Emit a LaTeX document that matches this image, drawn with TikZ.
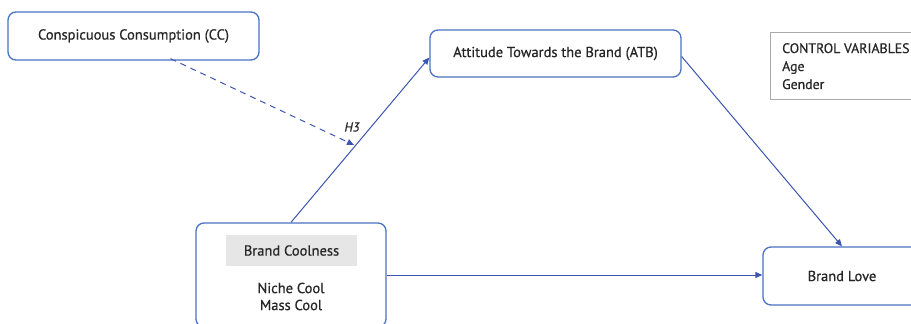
\documentclass[tikz,border=0pt]{standalone}
\usepackage{fontspec}
\setmainfont[FakeBold=0.6]{PT Sans}
\usetikzlibrary{arrows.meta,calc}
\definecolor{boxblue}{HTML}{4A72C4}
\definecolor{lineblue}{HTML}{3B55B0}
\definecolor{txt}{HTML}{262626}
\definecolor{grayfill}{HTML}{E6E6E6}
\definecolor{grayline}{HTML}{AAAAAA}
\begin{document}
\begin{tikzpicture}[x=1pt,y=-1pt,
  vbox/.style={draw=boxblue,line width=1.3pt,rounded corners=8pt,fill=white,text=txt,font=\fontsize{14.5}{17}\selectfont,inner sep=0pt},
  conn/.style={draw=lineblue,line width=1pt,-{Triangle[length=7pt,width=6pt]}},
  lbl/.style={text=txt,font=\fontsize{14.5}{17}\selectfont,inner sep=0pt}]
\useasboundingbox (0,0) rectangle (911,324);
\clip (0,0) rectangle (911,324);
\node[vbox,minimum width=251pt,minimum height=48pt] (cc) at (133.5,36) {Conspicuous Consumption (CC)};
\node[vbox,minimum width=251pt,minimum height=47pt] (atb) at (555.5,53.5) {Attitude Towards the Brand (ATB)};
\node[draw=grayline,line width=0.8pt,minimum width=170pt,minimum height=67pt,anchor=north west,inner sep=0pt] (ctrl) at (770,32) {};
\node[lbl,anchor=north west,align=left,font=\fontsize{13.8}{18}\selectfont] (ctrltext) at (782,43) {CONTROL VARIABLES\\Age\\Gender};
\node[vbox,minimum width=190pt,minimum height=104pt] (cool) at (291,275) {};
\node[fill=grayfill,minimum width=131pt,minimum height=31pt,inner sep=0pt,lbl] (coolhead) at (291.5,250.5) {Brand Coolness};
\node[lbl,align=center,font=\fontsize{14.5}{17}\selectfont] (coolsub) at (291,296.5) {Niche Cool\\Mass Cool};
\node[vbox,minimum width=158pt,minimum height=58pt] (love) at (842,276) {Brand Love};
\coordinate (h3end) at (354,145);
\draw[conn] (cool.north) -- ([yshift=-4pt]atb.west);
\draw[conn] ([yshift=-3pt]atb.east) -- (love.north);
\draw[conn] (cool.east) -- (cool.east -| love.west);
\draw[conn,dashed,dash pattern=on 6pt off 5pt] ([xshift=37pt,yshift=2pt]cc.south) -- (h3end);
\node[lbl,font=\fontsize{13}{15}\selectfont\itshape] (h3) at (352,127) {H3};
\end{tikzpicture}
\end{document}
